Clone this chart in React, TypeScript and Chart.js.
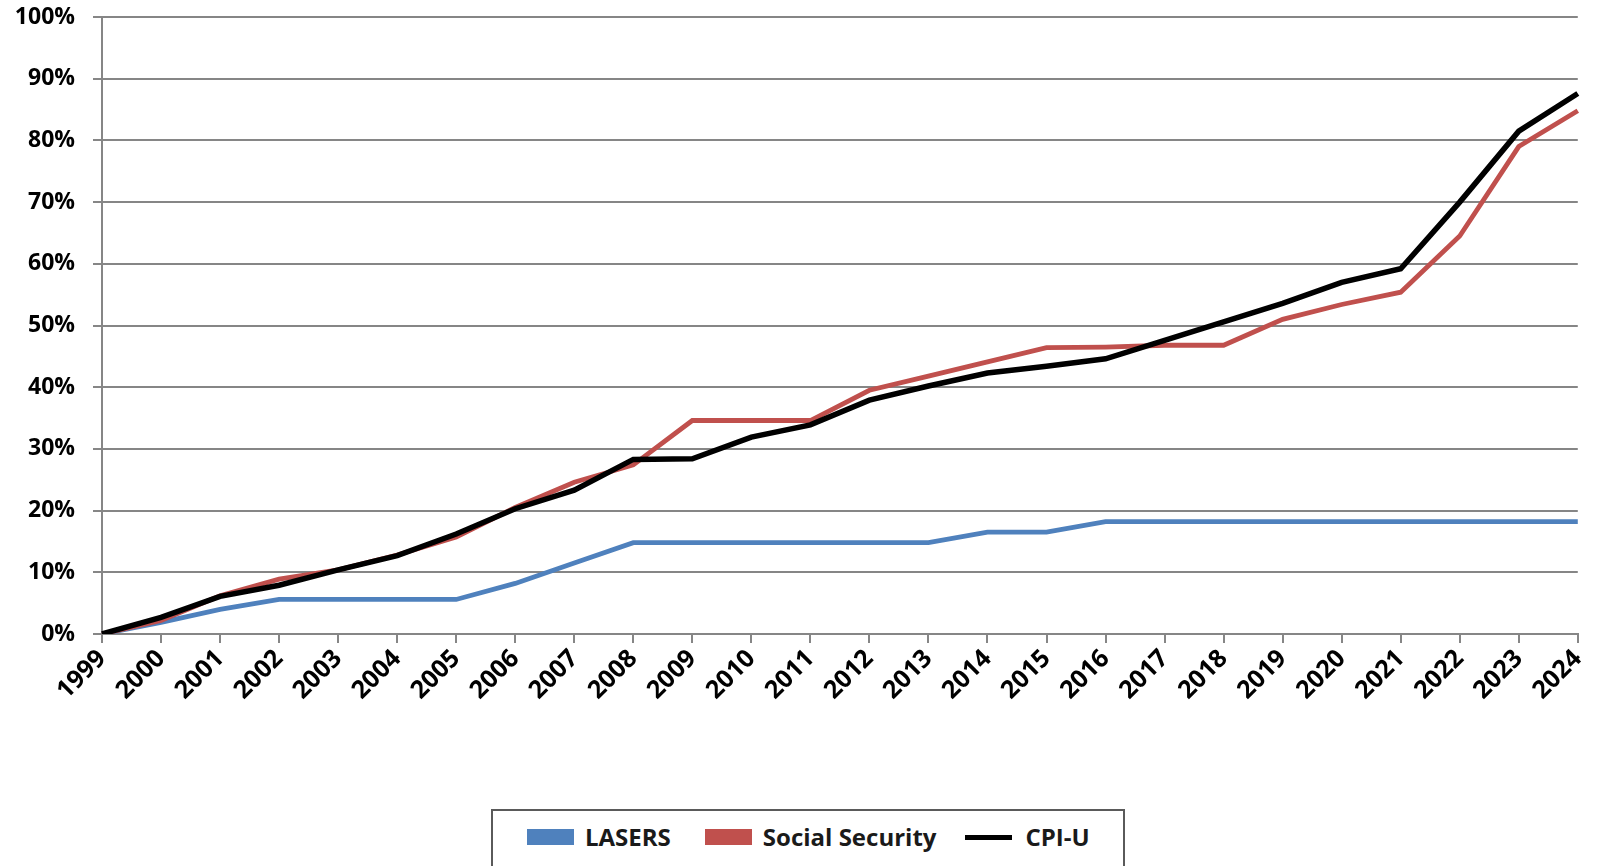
import React, { useEffect, useRef } from "react";
import { Chart, registerables } from "chart.js";

Chart.register(...registerables);

const years = [
  "1999", "2000", "2001", "2002", "2003", "2004", "2005", "2006", "2007",
  "2008", "2009", "2010", "2011", "2012", "2013", "2014", "2015", "2016",
  "2017", "2018", "2019", "2020", "2021", "2022", "2023", "2024",
];

const lasers = [
  0, 1.9, 4.0, 5.6, 5.6, 5.6, 5.6, 8.2, 11.5, 14.8, 14.8, 14.8, 14.8, 14.8,
  14.8, 16.5, 16.5, 18.2, 18.2, 18.2, 18.2, 18.2, 18.2, 18.2, 18.2, 18.2,
];

const socialSecurity = [
  0, 2.2, 6.2, 8.9, 10.4, 12.8, 15.7, 20.5, 24.6, 27.4, 34.6, 34.6, 34.6,
  39.5, 41.8, 44.1, 46.4, 46.5, 46.8, 46.8, 51.0, 53.4, 55.4, 64.5, 79.0, 84.8,
];

const cpiU = [
  0, 2.7, 6.1, 7.9, 10.4, 12.7, 16.2, 20.3, 23.3, 28.3, 28.4, 31.9, 33.9,
  37.9, 40.2, 42.3, 43.4, 44.6, 47.6, 50.6, 53.6, 57.0, 59.2, 70.0, 81.5, 87.6,
];

const yTicks = [0, 10, 20, 30, 40, 50, 60, 70, 80, 90, 100];

const FONT = "'Open Sans', 'DejaVu Sans', sans-serif";
const GRID = "#868686";

export default function App() {
  const ref = useRef<HTMLCanvasElement | null>(null);

  useEffect(() => {
    if (!ref.current) return;
    const chart = new Chart(ref.current, {
      type: "line",
      data: {
        labels: years,
        datasets: [
          {
            label: "LASERS",
            data: lasers,
            borderColor: "#4F81BD",
            backgroundColor: "#4F81BD",
            borderWidth: 4.8,
            pointRadius: 0,
            tension: 0,
            order: 2,
          },
          {
            label: "Social Security",
            data: socialSecurity,
            borderColor: "#C0504D",
            backgroundColor: "#C0504D",
            borderWidth: 4.8,
            pointRadius: 0,
            tension: 0,
            order: 1,
          },
          {
            label: "CPI-U",
            data: cpiU,
            borderColor: "#000000",
            backgroundColor: "#000000",
            borderWidth: 5.5,
            pointRadius: 0,
            tension: 0,
            order: 0,
          },
        ],
      },
      options: {
        responsive: false,
        animation: false,
        layout: { padding: { top: 17, right: 19, left: 0, bottom: 0 } },
        plugins: {
          legend: { display: false },
          tooltip: { enabled: false },
        },
        scales: {
          x: {
            type: "category",
            offset: false,
            grid: {
              display: true,
              drawOnChartArea: false,
              drawTicks: true,
              tickLength: 9,
              color: GRID,
              lineWidth: 2,
            },
            border: { display: true, color: GRID, width: 2 },
            ticks: {
              autoSkip: false,
              maxRotation: 45,
              minRotation: 45,
              padding: 1,
              color: "#000",
              font: { family: FONT, size: 25, weight: "bold" },
            },
            afterFit: (scale: any) => {
              scale.height = 866 - 634;
            },
          },
          y: {
            min: 0,
            max: 100,
            afterBuildTicks: (scale: any) => {
              scale.ticks = yTicks.map((v) => ({ value: v }));
            },
            grid: {
              color: GRID,
              lineWidth: 2,
              tickLength: 9,
              drawTicks: true,
            },
            border: { display: true, color: GRID, width: 2 },
            ticks: {
              padding: 18,
              color: "#000",
              font: { family: FONT, size: 23, weight: "bold" },
              callback: (v: any) => `${v}%`,
            },
            afterFit: (scale: any) => {
              scale.width = 102;
              scale.paddingTop = 0;
              scale.paddingBottom = 0;
            },
          },
        },
      },
    });
    return () => chart.destroy();
  }, []);

  const itemText: React.CSSProperties = {
    fontFamily: FONT,
    fontWeight: 700,
    fontSize: 24,
    color: "#1a1a1a",
    lineHeight: "24px",
  };

  return (
    <div
      style={{
        position: "relative",
        width: 1600,
        height: 866,
        overflow: "hidden",
        background: "#fff",
      }}
    >
      <style>{"body{margin:0;overflow:hidden;}"}</style>
      <canvas ref={ref} width={1600} height={866} style={{ display: "block" }} />
      <div
        style={{
          position: "absolute",
          left: 491,
          top: 809,
          width: 634,
          height: 80,
          border: "2px solid #5a5a5a",
          boxSizing: "border-box",
          background: "#fff",
        }}
      >
        <div
          style={{
            position: "absolute",
            top: 14,
            left: 34,
            display: "flex",
            alignItems: "center",
            height: 24,
          }}
        >
          <div style={{ width: 47, height: 16, background: "#4F81BD" }} />
          <span style={{ ...itemText, marginLeft: 11 }}>LASERS</span>
          <div style={{ width: 47, height: 16, background: "#C0504D", marginLeft: 34 }} />
          <span style={{ ...itemText, marginLeft: 11 }}>Social Security</span>
          <div style={{ width: 47, height: 5, background: "#000", marginLeft: 29 }} />
          <span style={{ ...itemText, marginLeft: 13 }}>CPI-U</span>
        </div>
      </div>
    </div>
  );
}
